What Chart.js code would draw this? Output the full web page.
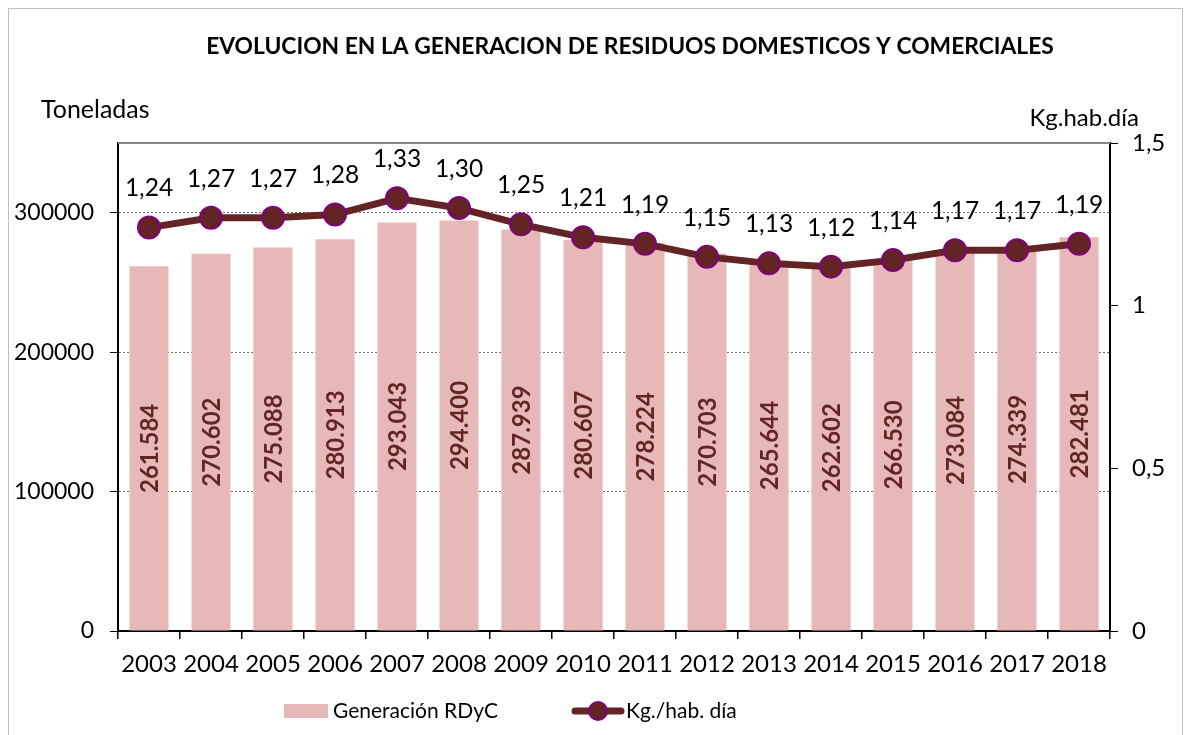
<!DOCTYPE html>
<html>
<head>
<meta charset="utf-8">
<script src="https://cdn.jsdelivr.net/npm/chart.js@4/dist/chart.umd.min.js"></script>
<style>
  html,body{margin:0;padding:0;background:#fff;}
  #wrap{position:relative;width:1190px;height:735px;}
</style>
</head>
<body>
<div id="wrap"><canvas id="c" width="1190" height="735"></canvas></div>
<script>
const categories = ['2003','2004','2005','2006','2007','2008','2009','2010','2011','2012','2013','2014','2015','2016','2017','2018'];
const toneladas = [261584, 270602, 275088, 280913, 293043, 294400, 287939, 280607, 278224, 270703, 265644, 262602, 266530, 273084, 274339, 282481];
const kgHabDia = [1.24, 1.27, 1.27, 1.28, 1.33, 1.30, 1.25, 1.21, 1.19, 1.15, 1.13, 1.12, 1.14, 1.17, 1.17, 1.19];
const leftTicks = [0, 100000, 200000, 300000];
const rightTicks = [0, 0.5, 1, 1.5];
const titleText = 'EVOLUCION EN LA GENERACION DE RESIDUOS DOMESTICOS Y COMERCIALES';
const leftAxisTitle = 'Toneladas';
const rightAxisTitle = 'Kg.hab.día';
const barLabel = 'Generación RDyC';
const lineLabel = 'Kg./hab. día';

const FONT = 'Lato';
const BAR_COLOR = '#e6b9b8';
const LINE_COLOR = '#632523';
const MARKER_BORDER = '#800080';

Chart.defaults.font.family = FONT;
Chart.defaults.color = '#000';

function fmtThousands(v){ return String(v).replace(/\B(?=(\d{3})+(?!\d))/g, '.'); }
function fmtDec(v){ return String(v).replace('.', ','); }

const decorPlugin = {
  id: 'decor',
  beforeDatasetsDraw(chart){
    const {ctx, chartArea:a} = chart;
    ctx.save();
    ctx.strokeStyle = '#868686';
    ctx.lineWidth = 2;
    ctx.beginPath();
    ctx.moveTo(a.left, a.top);
    ctx.lineTo(a.right, a.top);
    ctx.stroke();
    ctx.restore();
  },
  afterDraw(chart){
    const {ctx, chartArea:a} = chart;
    ctx.save();
    // outer dotted border
    ctx.strokeStyle = '#7f7f7f';
    ctx.lineWidth = 1;
    ctx.setLineDash([1,1]);
    ctx.strokeRect(8.5, 8.5, 1174, 740);
    ctx.setLineDash([]);
    // title
    ctx.fillStyle = '#000';
    ctx.font = 'bold 22.8px ' + FONT;
    ctx.textAlign = 'center';
    ctx.textBaseline = 'middle';
    ctx.fillText(titleText, 630, 47);
    // axis titles
    ctx.font = '25px ' + FONT;
    ctx.textAlign = 'left';
    ctx.fillText(leftAxisTitle, 41, 110);
    ctx.font = '24px ' + FONT;
    ctx.textAlign = 'right';
    ctx.fillText(rightAxisTitle, 1139, 118);

    // data labels
    const barMeta = chart.getDatasetMeta(0);
    const lineMeta = chart.getDatasetMeta(1);
    ctx.font = 'bold 24px ' + FONT;
    ctx.fillStyle = LINE_COLOR;
    ctx.textAlign = 'center';
    ctx.textBaseline = 'middle';
    barMeta.data.forEach((el, i) => {
      const cy = (el.y + el.base) / 2;
      ctx.save();
      ctx.translate(el.x, cy);
      ctx.rotate(-Math.PI/2);
      ctx.fillText(fmtThousands(toneladas[i]), 0, 1);
      ctx.restore();
    });
    ctx.font = '24.5px ' + FONT;
    ctx.fillStyle = '#000';
    lineMeta.data.forEach((el, i) => {
      ctx.fillText(kgHabDia[i].toFixed(2).replace('.', ','), el.x, el.y - 39);
    });

    // legend
    const ly = 711;
    ctx.fillStyle = BAR_COLOR;
    ctx.fillRect(284, ly - 7, 44, 14);
    ctx.fillStyle = '#000';
    ctx.font = '21px ' + FONT;
    ctx.textAlign = 'left';
    ctx.fillText(barLabel, 333, ly);
    ctx.strokeStyle = LINE_COLOR;
    ctx.lineWidth = 7;
    ctx.lineCap = 'round';
    ctx.beginPath();
    ctx.moveTo(575, ly);
    ctx.lineTo(621, ly);
    ctx.stroke();
    ctx.beginPath();
    ctx.arc(598, ly, 9, 0, Math.PI*2);
    ctx.fillStyle = LINE_COLOR;
    ctx.fill();
    ctx.lineWidth = 2;
    ctx.strokeStyle = MARKER_BORDER;
    ctx.stroke();
    ctx.fillStyle = '#000';
    ctx.fillText(lineLabel, 626, ly);
    ctx.restore();
  }
};

new Chart(document.getElementById('c'), {
  data: {
    labels: categories,
    datasets: [
      {
        type: 'bar',
        label: barLabel,
        data: toneladas,
        backgroundColor: BAR_COLOR,
        borderWidth: 0,
        yAxisID: 'y',
        order: 2,
        categoryPercentage: 1.0,
        barPercentage: 0.63
      },
      {
        type: 'line',
        label: lineLabel,
        data: kgHabDia,
        borderColor: LINE_COLOR,
        borderWidth: 7,
        pointRadius: 11,
        pointBackgroundColor: LINE_COLOR,
        pointBorderColor: MARKER_BORDER,
        pointBorderWidth: 2,
        tension: 0,
        yAxisID: 'y1',
        order: 1
      }
    ]
  },
  options: {
    responsive: false,
    animation: false,
    events: [],
    layout: { padding: { top: 143, left: 0, right: 0, bottom: 54 } },
    plugins: { legend: { display: false }, tooltip: { enabled: false }, title: { display: false } },
    scales: {
      x: {
        type: 'category',
        offset: true,
        grid: { offset: true, drawOnChartArea: false, tickLength: 8, color: '#000', lineWidth: 1.5 },
        border: { color: '#000', width: 2 },
        ticks: { font: { size: 24 }, color: '#000', padding: 11, maxRotation: 0, autoSkip: false },
        afterFit(axis){ axis.height = 50; }
      },
      y: {
        position: 'left',
        min: 0, max: 350000,
        afterBuildTicks(axis){ axis.ticks = leftTicks.map(v => ({value: v})); },
        grid: {
          color: (c) => (c.tick && c.tick.value === 0) ? 'rgba(0,0,0,0)' : '#6e6e6e',
          tickColor: '#000',
          tickLength: 8,
          lineWidth: 1
        },
        border: { color: '#000', width: 2, dash: [2, 2] },
        ticks: { font: { size: 23 }, color: '#000', padding: 16, callback: (v) => String(v) },
        afterFit(axis){ axis.width = 118; }
      },
      y1: {
        position: 'right',
        min: 0, max: 1.5,
        afterBuildTicks(axis){ axis.ticks = rightTicks.map(v => ({value: v})); },
        grid: { drawOnChartArea: false, tickColor: '#000', tickLength: 8 },
        border: { color: '#000', width: 2 },
        ticks: { font: { size: 24 }, color: '#000', padding: 14, callback: (v) => fmtDec(v) },
        afterFit(axis){ axis.width = 80; }
      }
    }
  },
  plugins: [decorPlugin]
});
</script>
</body>
</html>
